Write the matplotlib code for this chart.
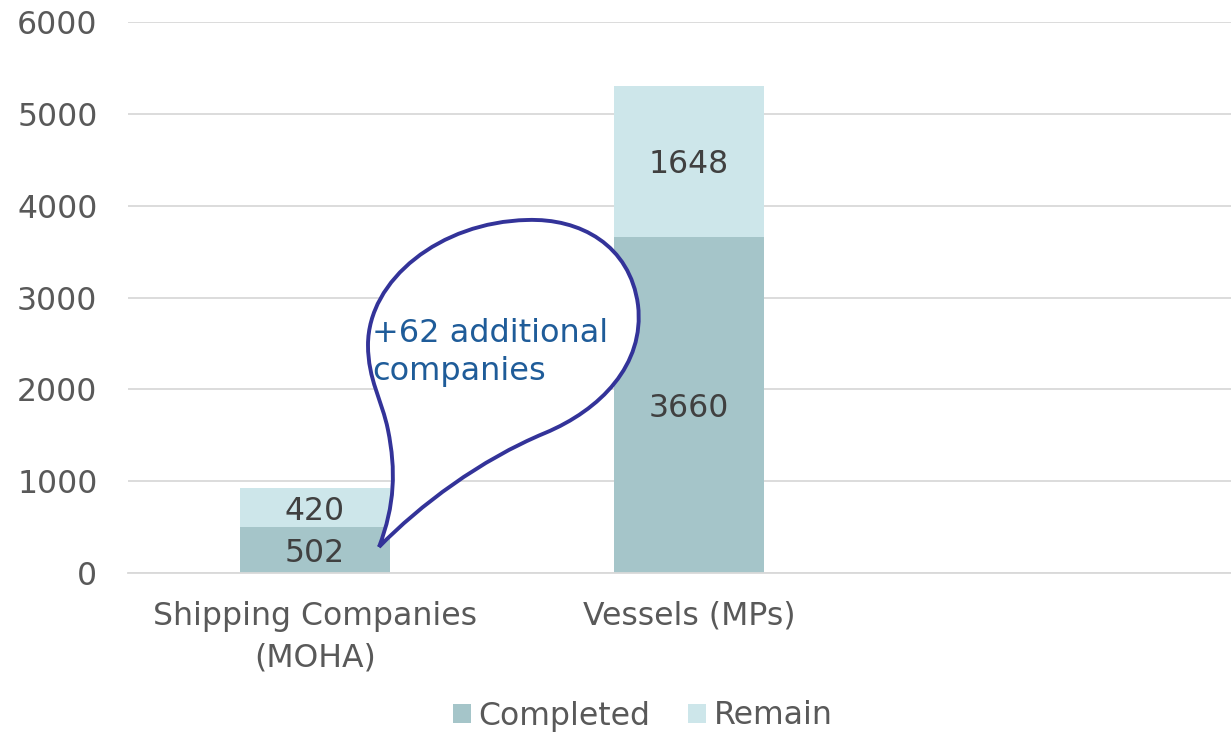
import matplotlib.pyplot as plt
import numpy as np
from matplotlib.path import Path
from matplotlib.patches import PathPatch

categories = ["Shipping Companies\n(MOHA)", "Vessels (MPs)", ""]
completed = [502, 3660, 0]
remain = [420, 1648, 0]
yticks = [0, 1000, 2000, 3000, 4000, 5000, 6000]
callout_text = "+62 additional\ncompanies"

W, H = 1231, 736
fig = plt.figure(figsize=(W / 100, H / 100), dpi=100)
ax = fig.add_axes([128 / W, (H - 573) / H, 1 - 128 / W, (573 - 22) / H])

x = np.arange(len(categories))
c_done = "#A5C5C9"
c_rem = "#CDE6EA"
fs = 22.7
b1 = ax.bar(x[:2], completed[:2], width=0.4, color=c_done, label="Completed", zorder=2)
b2 = ax.bar(x[:2], remain[:2], width=0.4, bottom=completed[:2], color=c_rem, label="Remain", zorder=2)
for lab in ax.bar_label(b1, label_type="center", fontsize=fs, color="#404040") + \
        ax.bar_label(b2, label_type="center", fontsize=fs, color="#404040"):
    lab.set_va("center_baseline")

ax.set_xlim(-0.5, 2.449)
ax.set_ylim(0, 6000)
ax.set_yticks(yticks)
ax.set_xticks(x)
ax.set_xticklabels(categories)
ax.grid(axis="y", color="#D9D9D9", linewidth=1.3, zorder=0)
for s in ["top", "right", "left"]:
    ax.spines[s].set_visible(False)
ax.spines["bottom"].set_color("#D9D9D9")
ax.spines["bottom"].set_linewidth(1.3)
ax.tick_params(axis="both", length=0, labelsize=fs, labelcolor="#595959")
ax.tick_params(axis="y", pad=22)
ax.tick_params(axis="x", pad=20)
for t in ax.get_xticklabels():
    t.set_linespacing(1.45)

# speech bubble drawn in figure pixel coordinates (image y measured from top)
pts = [(379, 547),
       (420, 505), (480, 460), (545, 433),
       (600, 410), (645, 365), (638, 305),
       (630, 245), (580, 218), (527, 220),
       (440, 222), (368, 280), (368, 345),
       (368, 380), (382, 400), (388, 430),
       (396, 470), (395, 505), (379, 547)]
codes = [Path.MOVETO] + [Path.CURVE4] * 18
verts = [(px / W, 1 - py / H) for px, py in pts]
bubble = PathPatch(Path(verts, codes), transform=fig.transFigure, facecolor="white",
                   edgecolor="#333399", linewidth=2.8, zorder=5)
fig.patches.append(bubble)
fig.text(372 / W, 1 - 318 / H, callout_text, ha="left", va="top", fontsize=23,
         color="#1F5C99", linespacing=1.3, zorder=6)

fig.legend(handles=[b1, b2], loc="center", bbox_to_anchor=(643 / W, 1 - 716 / H),
           ncol=2, frameon=False, fontsize=fs, labelcolor="#595959",
           handlelength=0.55, handleheight=0.55, handletextpad=0.25, columnspacing=1.2)

fig.savefig("out.png", dpi=100)
